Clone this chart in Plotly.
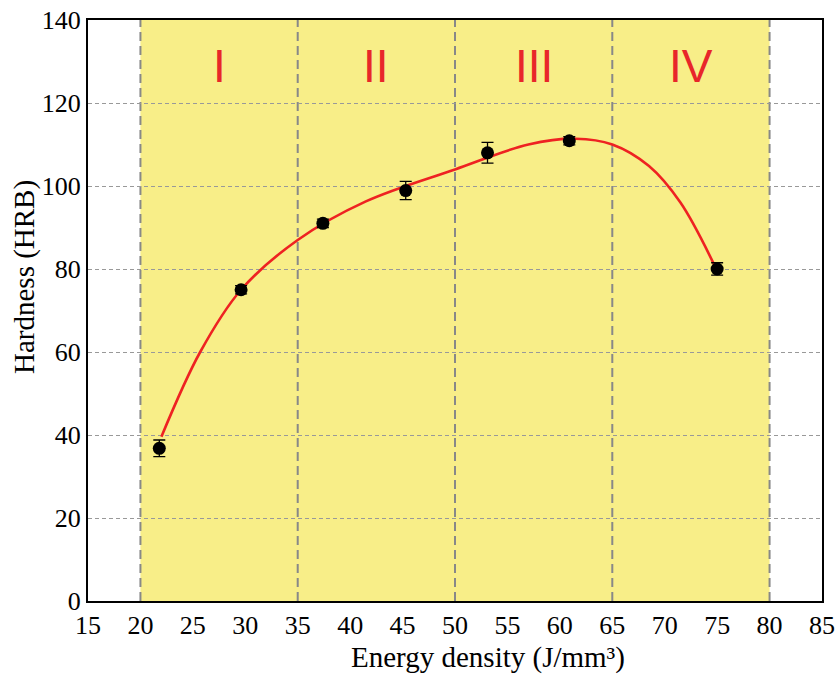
import plotly.graph_objects as go

# Measured data
energy = [21.8, 29.6, 37.4, 45.3, 53.1, 60.9, 75.0]
hardness = [36.8, 75.0, 91.0, 98.9, 108.0, 110.9, 80.0]
hardness_err = [2.0, 1.0, 1.0, 2.2, 2.5, 1.0, 1.5]

# Fitted curve
fit_x = [22.0, 25.7, 29.6, 35.0, 41.5, 50.0, 57.0, 61.5, 65.0, 68.5, 71.5, 74.8]
fit_y = [39.6, 60.0, 75.0, 87.0, 96.3, 104.0, 110.0, 111.4, 110.0, 104.8, 96.0, 80.6]

# Regions
region_bounds = [20, 35, 50, 65, 80]
region_labels = ["I", "II", "III", "IV"]
label_y = 129

x_ticks = [15, 20, 25, 30, 35, 40, 45, 50, 55, 60, 65, 70, 75, 80, 85]
y_ticks = [0, 20, 40, 60, 80, 100, 120, 140]

x_title = "Energy density (J/mm³)"
y_title = "Hardness (HRB)"

fig = go.Figure()

fig.add_trace(go.Scatter(
    x=fit_x, y=fit_y, mode="lines",
    line=dict(color="#EE2222", width=2.6, shape="spline", smoothing=1.0),
    showlegend=False, hoverinfo="skip"))

fig.add_trace(go.Scatter(
    x=energy, y=hardness, mode="markers",
    marker=dict(color="black", size=13),
    error_y=dict(type="data", array=hardness_err, color="black", thickness=1.3, width=6),
    showlegend=False))

shapes = [dict(type="rect", xref="x", yref="paper", x0=region_bounds[0], x1=region_bounds[-1],
               y0=0, y1=1, fillcolor="#F8EE88", line=dict(width=0), layer="below")]
for b in region_bounds:
    shapes.append(dict(type="line", xref="x", yref="paper", x0=b, x1=b, y0=0, y1=1,
                       line=dict(color="#888888", width=2, dash="9px,5px"), layer="between"))
fig.update_layout(shapes=shapes)

for i, lab in enumerate(region_labels):
    fig.add_annotation(x=(region_bounds[i] + region_bounds[i + 1]) / 2, y=label_y, text=lab,
                       showarrow=False,
                       font=dict(family="Liberation Sans, Arial, sans-serif", size=46, color="#E8262A"))

serif = "Liberation Serif, Times New Roman, serif"

fig.add_annotation(xref="paper", yref="paper", x=0.545, y=-0.0964, text=x_title, showarrow=False,
                   xanchor="center", yanchor="middle", font=dict(family=serif, size=29, color="black"))
fig.add_annotation(xref="paper", yref="paper", x=-0.0858, y=0.5577, text=y_title, showarrow=False,
                   textangle=-90, xanchor="center", yanchor="middle",
                   font=dict(family=serif, size=29, color="black"))

fig.update_layout(
    width=840, height=681,
    margin=dict(l=88, r=18, t=20, b=80),
    plot_bgcolor="white", paper_bgcolor="white",
    font=dict(family=serif, color="black"),
    xaxis=dict(range=[15, 85], tickvals=x_ticks, showgrid=False, zeroline=False, automargin=False,
               showline=True, linecolor="black", linewidth=2, mirror=True, ticks="", ticklen=0,
               tickfont=dict(size=26, family=serif), ticklabelstandoff=0),
    yaxis=dict(range=[0, 140], tickvals=y_ticks, showgrid=True, gridcolor="#999999",
               griddash="4px,3px", gridwidth=1.3, zeroline=False, automargin=False,
               showline=True, linecolor="black", linewidth=2, mirror=True, ticks="", ticklen=0,
               tickfont=dict(size=26, family=serif), ticklabelstandoff=0),
)

fig.write_html("out.html", config={"displayModeBar": False},
               post_script="document.body.style.margin='0';")
